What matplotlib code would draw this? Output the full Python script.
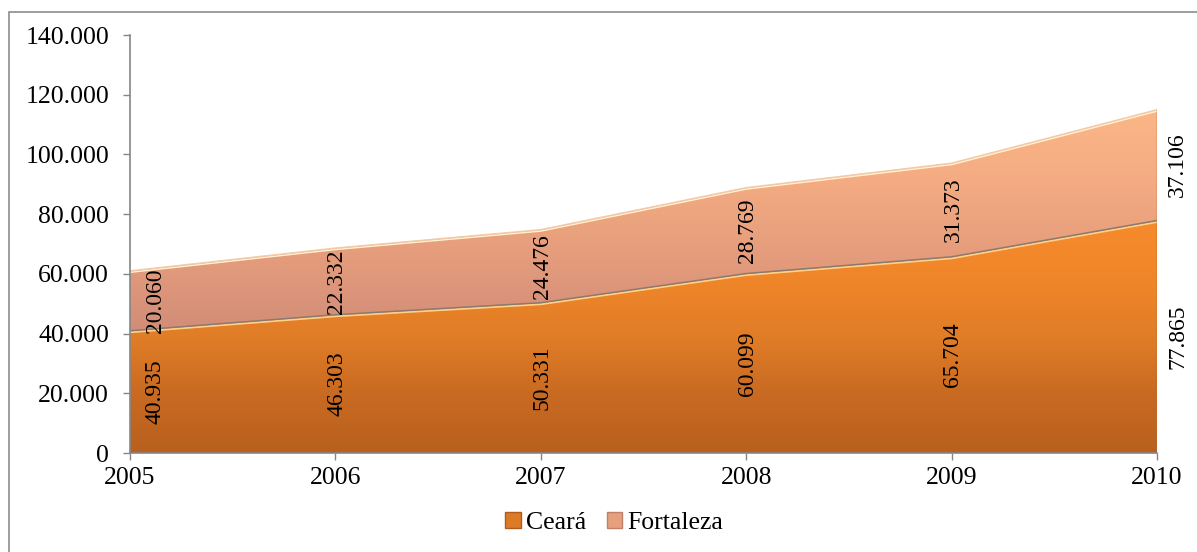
import numpy as np
import matplotlib
matplotlib.use("Agg")
import matplotlib.pyplot as plt
from matplotlib.colors import LinearSegmentedColormap
from matplotlib.patches import PathPatch, Rectangle, Patch
from matplotlib import transforms

# data
anos = [2005, 2006, 2007, 2008, 2009, 2010]
ceara = [40935, 46303, 50331, 60099, 65704, 77865]
fortaleza = [20060, 22332, 24476, 28769, 31373, 37106]
y_ticks = [0, 20000, 40000, 60000, 80000, 100000, 120000, 140000]

plt.rcParams['font.family'] = ['Liberation Serif', 'DejaVu Serif']

fig = plt.figure(figsize=(11.97, 5.52), dpi=100)
ax = fig.add_axes([130 / 1197, 99 / 552, 1027 / 1197, 418 / 552])

x = np.array(anos, dtype=float)
c = np.array(ceara, dtype=float)
f = np.array(fortaleza, dtype=float)
top = c + f

cmap_c = LinearSegmentedColormap.from_list('c', ['#b8601e', '#c96a22', '#e07d27', '#f08629', '#f68b2d'])
cmap_f = LinearSegmentedColormap.from_list('f', ['#d28d78', '#e49c7c', '#f4ab82', '#fbb687'])


def gradient_fill(y0, y1, cmap, zorder):
    poly = ax.fill_between(x, y0, y1, facecolor='none', edgecolor='none', zorder=zorder)
    path = poly.get_paths()[0]
    patch = PathPatch(path, transform=ax.transData, facecolor='none', edgecolor='none')
    ax.add_patch(patch)
    lo, hi = np.min(y0), np.max(y1)
    grad = np.linspace(0, 1, 256).reshape(-1, 1)
    im = ax.imshow(grad, cmap=cmap, aspect='auto', origin='lower',
                   extent=[x[0], x[-1], lo, hi], zorder=zorder, interpolation='bicubic')
    im.set_clip_path(patch)


gradient_fill(np.zeros_like(c), c, cmap_c, 1)
gradient_fill(c, top, cmap_f, 1)

# bevel-like edges
down = transforms.offset_copy(ax.transData, fig=fig, x=0, y=-1.5, units='dots')
ax.plot(x, top, color='#f3c9a6', lw=1.0, zorder=2)
ax.plot(x, top, color='#fff2d2', lw=1.0, zorder=2, transform=down)
ax.plot(x, c, color='#8a7a70', lw=1.1, zorder=3)
ax.plot(x, c, color='#ffcf88', lw=1.4, zorder=2, transform=down)
ax.plot([x[-1], x[-1]], [0, top[-1]], color='#a0683a', lw=1.0, zorder=2)

# data labels
for i, yr in enumerate(anos):
    if i == 0:
        dx = 18
    elif i == len(anos) - 1:
        dx = 15
    else:
        dx = 1
    ax.annotate(f"{ceara[i]:,}".replace(',', '.'), (yr, ceara[i] / 2), xytext=(dx, 0),
                textcoords='offset points', rotation=90, ha='center', va='center',
                fontsize=17, zorder=5, annotation_clip=False)
    ax.annotate(f"{fortaleza[i]:,}".replace(',', '.'), (yr, ceara[i] + fortaleza[i] / 2),
                xytext=(dx, 0), textcoords='offset points', rotation=90, ha='center',
                va='center', fontsize=17, zorder=5, annotation_clip=False)

ax.set_xlim(2005, 2010)
ax.set_ylim(0, 140000)
ax.set_xticks(anos)
ax.set_xticklabels([str(a) for a in anos])
ax.set_yticks(y_ticks)
ax.set_yticklabels([f"{v:,}".replace(',', '.') for v in y_ticks])

for s in ['top', 'right']:
    ax.spines[s].set_visible(False)
for s in ['left', 'bottom']:
    ax.spines[s].set_color('#868686')
    ax.spines[s].set_linewidth(1.2)
    ax.spines[s].set_zorder(4)
ax.tick_params(axis='both', colors='#868686', labelcolor='black', labelsize=18.5, length=5, width=1)
ax.tick_params(axis='y', pad=10)
ax.tick_params(axis='x', pad=5)

handles = [Patch(facecolor='#dc7a26', edgecolor='#b05a1c'),
           Patch(facecolor='#e6a07e', edgecolor='#c08068')]
fig.legend(handles, ['Ceará', 'Fortaleza'], loc='center', bbox_to_anchor=(0.513, 0.0525),
           ncol=2, frameon=False, fontsize=18.5, handlelength=0.6, handleheight=0.6,
           handletextpad=0.2, columnspacing=0.8)

# outer chart border
fig.patches.append(Rectangle((9 / 1197, -0.05), 1.1, 1 - 12 / 552 + 0.05,
                             transform=fig.transFigure, fill=False,
                             edgecolor='#8c8c8c', lw=1.2, zorder=0))

fig.savefig('out.png', dpi=100)
